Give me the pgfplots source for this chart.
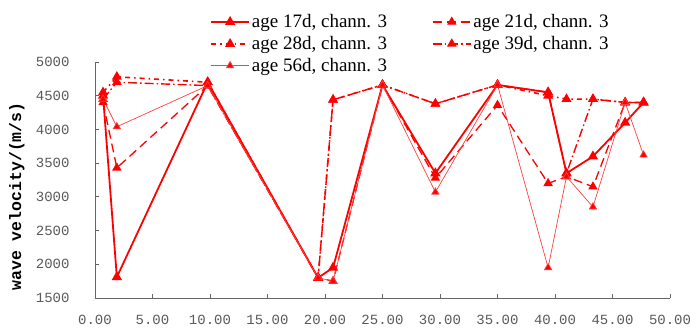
\documentclass[border=0pt]{standalone}
\usepackage{pgfplots}
\pgfplotsset{compat=1.18}
\usepackage{fontspec}
\setmainfont{Liberation Serif}
\setmonofont{Liberation Mono}
\definecolor{lred}{RGB}{255,0,0}
\begin{document}
\begin{tikzpicture}
\begin{axis}[
  scale only axis, width=575pt, height=236pt,
  xmin=0, xmax=50, ymin=1500, ymax=5000,
  axis lines=left, axis line style={-, gray!80!black, line width=0.8pt},
  tick align=inside, major tick length=4pt, tick style={gray!80!black, line width=0.8pt},
  xtick={0,5,...,50},
  xticklabels={0.00,5.00,10.00,15.00,20.00,25.00,30.00,35.00,40.00,45.00,50.00},
  ytick={1500,2000,...,5000},
  yticklabels={1500,2000,2500,3000,3500,4000,4500,5000},
  ticklabel style={font=\fontsize{14}{14}\selectfont\ttfamily, text=gray!70!black},
  xticklabel style={yshift=-14pt},
  yticklabel style={xshift=-22pt},
  ylabel={wave velocity/(m/s)},
  ylabel style={font=\fontsize{16.5}{16.5}\selectfont\ttfamily\bfseries,
    at={(axis description cs:-0.136,0.43)}, anchor=center},
  clip=false,
  legend columns=2,
  legend style={draw=none, fill=none, at={(rel axis cs:0.2,1.21)}, anchor=north west,
    font=\fontsize{19}{19}\selectfont, row sep=3.2pt, inner sep=0pt,
    /tikz/every even column/.append style={column sep=43pt}},
  legend cell align=left,
  legend image code/.code={\draw[mark repeat=2,mark phase=2,#1] plot coordinates {(0pt,0pt)(19pt,0pt)(38pt,0pt)};},
  every axis plot/.append style={color=lred, mark=triangle*, mark size=4.2pt, mark options={solid, fill=lred}},
]
\addplot[line width=1.8pt] coordinates {
(0.7,4500)(1.9,1810)(9.8,4700)(19.4,1800)(20.7,1950)(25,4660)(29.6,3350)(35,4660)(39.4,4550)(41,3350)(43.3,3600)(46.1,4100)(47.7,4400)};
\addlegendentry{age 17d, chann. 3}
\addplot[line width=1.3pt, dash pattern=on 9pt off 5pt] coordinates {
(0.7,4400)(1.9,3430)(9.8,4650)(19.4,1800)(20.7,1750)(25,4660)(29.6,3280)(35,4360)(39.4,3200)(41,3300)(43.3,3150)(46.1,4400)(47.7,4400)};
\addlegendentry{age 21d, chann. 3}
\addplot[line width=1.6pt, dash pattern=on 5pt off 4pt on 1.5pt off 4pt] coordinates {
(0.7,4550)(1.9,4780)(9.8,4700)(19.4,1800)(20.7,4440)(25,4660)(29.6,4380)(35,4660)(39.4,4500)(41,4450)(43.3,4450)(46.1,4400)(47.7,4400)};
\addlegendentry{age 28d, chann. 3}
\addplot[line width=1.4pt, dash pattern=on 9pt off 3pt on 1.5pt off 3pt] coordinates {
(0.7,4450)(1.9,4700)(9.8,4650)(19.4,1800)(20.7,4440)(25,4660)(29.6,4380)(35,4660)(39.4,4550)(41,3350)(43.3,4450)(46.1,4400)(47.7,4400)};
\addlegendentry{age 39d, chann. 3}
\addplot[line width=0.7pt, color=lred!75] coordinates {
(0.7,4450)(1.9,4040)(9.8,4650)(19.4,1800)(20.7,1750)(25,4660)(29.6,3070)(35,4660)(39.4,1950)(41,3300)(43.3,2850)(46.1,4400)(47.7,3620)};
\addlegendentry{age 56d, chann. 3}
\end{axis}
\pgfresetboundingbox
\path (-95pt,-33pt) rectangle (595pt,298pt);
\end{tikzpicture}
\end{document}
